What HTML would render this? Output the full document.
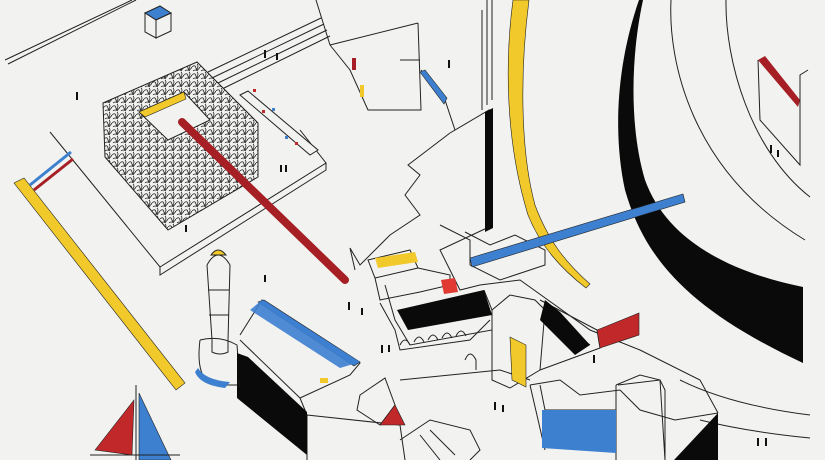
<!DOCTYPE html>
<html><head><meta charset="utf-8"><style>
html,body{margin:0;padding:0;background:#f2f2f0;}
svg{display:block}
</style></head><body>
<svg width="825" height="460" viewBox="0 0 825 460" xmlns="http://www.w3.org/2000/svg">
<defs>
<pattern id="tex" width="8" height="8" patternUnits="userSpaceOnUse">
<rect width="8" height="8" fill="#f2f2f0"/>
<path d="M0 3 Q3 0 4 4 T8 3 M1 7 Q3 5 6 7 M5 0 Q7 2 5 5" stroke="#222" stroke-width="0.8" fill="none"/>
</pattern>
</defs>
<rect width="825" height="460" fill="#f2f2f0"/>
<g fill="none" stroke="#222" stroke-width="1">
<path d="M671 0 C668 60 690 170 805 240"/>
<path d="M726 0 C725 60 750 150 810 197"/>
<path d="M680 380 C720 400 770 410 810 415"/>
<path d="M700 420 C740 430 780 435 810 438"/>
<path d="M5 60 L132 0 M8 64 L136 0"/>
<path d="M50 132 L160 267 L326 163 L300 130 M160 267 L160 275 L326 170 L326 163"/>
<path d="M208 72 L321 18 M212 78 L324 24 M216 84 L327 30 M220 90 L330 36"/>
<path d="M482 10 L482 110 M487 0 L487 105 M492 0 L492 100"/>
<path d="M450 133 L489 110 L489 227 L440 250 L460 290 L480 285 L520 280 L590 330 L640 350 L700 380 L718 413"/>
<path d="M450 133 L408 165 L420 175 L405 195 L420 215 L390 235 L360 265 L350 248 L355 270"/>
<path d="M440 225 L470 240 L470 265 L500 280 L545 265 L545 250 L515 235 L490 245 L465 232"/>
<path d="M330 45 L316 0 M418 23 L421 110 L368 110 L350 70 L330 45 M330 45 L418 23 M400 60 L420 60"/>
<path d="M421 70 L445 100 L455 130"/>
<path d="M368 260 L410 250 L418 268 L375 278 Z M375 278 L380 300 L420 292 L450 285 L450 275 L418 268"/>
<path d="M385 285 L395 320 L410 345 L492 330 L492 310 L484 290"/>
<path d="M492 310 L510 295 L535 300 L545 310 L540 370 L510 388 L492 380 Z"/>
<path d="M540 300 L597 330 L600 348 L540 370 M545 310 L590 345"/>
<path d="M380 303 L395 330 L400 350 L470 340 L490 320"/>
<path d="M400 345 Q405 335 410 345 M414 342 Q419 332 424 342 M428 340 Q433 330 438 340 M442 338 Q447 328 452 338 M456 336 Q461 326 466 336"/>
<path d="M465 360 Q470 348 476 360 L476 370 M400 380 L500 370 L530 380"/>
<path d="M530 385 L560 380 L580 395 L620 390 L640 410 L675 420 L718 413"/>
<path d="M530 385 L545 450 M616 385 L640 375 L660 380 L665 460 M616 385 L616 460"/>
<path d="M207 265 L212 340 M230 265 L228 340 M207 265 Q218 245 230 265 M208 290 L229 290 M209 315 L229 315"/>
<path d="M200 340 Q195 380 215 385 L240 385 L237 345 Q220 335 200 340"/>
<path d="M212 340 L212 352 Q220 356 228 352 L228 340"/>
<path d="M240 335 L262 300 L360 363 L350 375 L300 398 L240 340 M300 398 L307 415"/>
<path d="M307 415 L400 425 L405 460 M307 460 L307 415"/>
<path d="M360 395 L385 378 L395 405 L380 425 L357 410 Z"/>
<path d="M400 440 L430 420 L470 430 L480 450 L470 460 M420 435 L440 460 M430 430 L455 455"/>
<path d="M618 385 L660 380 L665 390 L665 460"/>
<path d="M540 385 L545 410 L616 410"/>
</g>
<path d="M639 0 C618 60 612 130 625 190 C645 260 690 310 803 363 L803 287 C720 270 665 235 645 180 C630 130 630 60 643 0 Z" fill="#0a0a0a"/>
<path d="M513 0 C505 60 505 140 528 215 C540 245 560 268 586 288 L590 284 C565 262 548 240 535 205 C520 150 520 70 529 0 Z" fill="#f1c92a" stroke="#222" stroke-width="0.6"/>
<polygon points="485,112 493,108 493,228 485,232" fill="#0a0a0a"/>
<polygon points="103,103 197,62 258,123 258,177 168,230 105,157" fill="url(#tex)" stroke="#222"/>
<polygon points="139,112 184,92 210,120 168,140" fill="#f2f2f0" stroke="#222"/>
<polygon points="139,112 184,92 186,99 145,117" fill="#f1c92a" stroke="#222" stroke-width="0.6"/>
<polygon points="240,95 248,91 318,150 310,155" fill="#f2f2f0" stroke="#222"/>
<g fill="#c0282a"><rect x="253" y="89" width="3" height="3"/><rect x="262" y="110" width="3" height="3"/><rect x="295" y="142" width="3" height="3"/></g>
<g fill="#3d80d0"><rect x="272" y="108" width="3" height="3"/><rect x="285" y="136" width="3" height="3"/></g>
<path d="M182 122 L345 280" stroke="#a51f24" stroke-width="8" stroke-linecap="round"/>
<polygon points="470,258 683,194 685,202 472,267" fill="#3d80d0" stroke="#222" stroke-width="0.6"/>
<polygon points="14,183 24,178 185,383 176,390" fill="#f1c92a" stroke="#222" stroke-width="0.6"/>
<path d="M30 185 L71 152" stroke="#3d80d0" stroke-width="3"/>
<path d="M34 190 L73 159" stroke="#a51f24" stroke-width="3"/>
<polygon points="145,13 160,6 171,13 156,20" fill="#3d80d0" stroke="#222"/>
<polygon points="145,13 156,20 156,38 145,32" fill="#f2f2f0" stroke="#222"/>
<polygon points="156,20 171,13 171,31 156,38" fill="#f2f2f0" stroke="#222"/>
<polygon points="420,72 425,70 447,98 444,104" fill="#3d80d0" stroke="#222" stroke-width="0.6"/>
<rect x="352" y="58" width="4" height="12" fill="#a51f24"/>
<rect x="360" y="85" width="4" height="12" fill="#f1c92a"/>
<polygon points="758,60 765,56 800,100 798,107" fill="#a51f24"/>
<path d="M758 60 L760 120 L800 165 L800 75 L808 70" fill="none" stroke="#222"/>
<path d="M211 255 Q218 245 226 255 Z" fill="#f1c92a" stroke="#222"/>
<path d="M195 372 Q200 385 225 388 L230 382 Q205 380 198 368 Z" fill="#3d80d0"/>
<polygon points="258,302 264,300 360,362 354,366" fill="#3d80d0" stroke="#222" stroke-width="0.6"/>
<polygon points="262,300 360,362 340,368 250,310" fill="#3d80d0" opacity="0.9"/>
<rect x="320" y="378" width="8" height="5" fill="#f1c92a"/>
<polygon points="237,353 248,357 307,412 307,455 237,398" fill="#0a0a0a"/>
<polygon points="397,310 484,290 492,315 408,330" fill="#0a0a0a"/>
<polygon points="441,280 455,278 458,292 444,294" fill="#e03a33"/>
<polygon points="375,258 415,252 418,262 378,268" fill="#f1c92a"/>
<polygon points="597,330 639,313 639,335 600,348" fill="#c0282a" stroke="#222" stroke-width="0.6"/>
<polygon points="545,300 560,312 590,345 575,355 540,320" fill="#0a0a0a"/>
<polygon points="510,337 526,345 526,387 512,380" fill="#f1c92a" stroke="#222" stroke-width="0.6"/>
<polygon points="542,410 616,410 616,453 542,448" fill="#3d80d0"/>
<polygon points="718,413 718,460 674,460" fill="#0a0a0a"/>
<polygon points="380,425 395,405 405,425" fill="#c0282a" stroke="#222" stroke-width="0.6"/>
<polygon points="95,450 134,400 132,455" fill="#c0282a" stroke="#222" stroke-width="0.6"/>
<polygon points="139,393 171,460 139,460" fill="#3d80d0" stroke="#222" stroke-width="0.6"/>
<path d="M136 385 L136 460 M90 455 L180 455" stroke="#222" fill="none"/>
<g fill="#111">
<rect x="76" y="92" width="2" height="8"/><rect x="264" y="50" width="2" height="8"/><rect x="276" y="53" width="2" height="7"/>
<rect x="448" y="60" width="2" height="8"/><rect x="280" y="165" width="2" height="7"/><rect x="285" y="165" width="2" height="7"/>
<rect x="185" y="225" width="2" height="7"/><rect x="264" y="275" width="2" height="7"/><rect x="348" y="302" width="2" height="8"/>
<rect x="361" y="308" width="2" height="7"/><rect x="381" y="345" width="2" height="8"/><rect x="388" y="345" width="2" height="7"/>
<rect x="238" y="380" width="2" height="7"/><rect x="593" y="355" width="2" height="8"/><rect x="494" y="402" width="2" height="8"/>
<rect x="502" y="405" width="2" height="7"/><rect x="770" y="145" width="2" height="8"/><rect x="777" y="150" width="2" height="7"/>
<rect x="757" y="438" width="2" height="8"/><rect x="765" y="438" width="2" height="8"/>
</g>
</svg>
</body></html>
